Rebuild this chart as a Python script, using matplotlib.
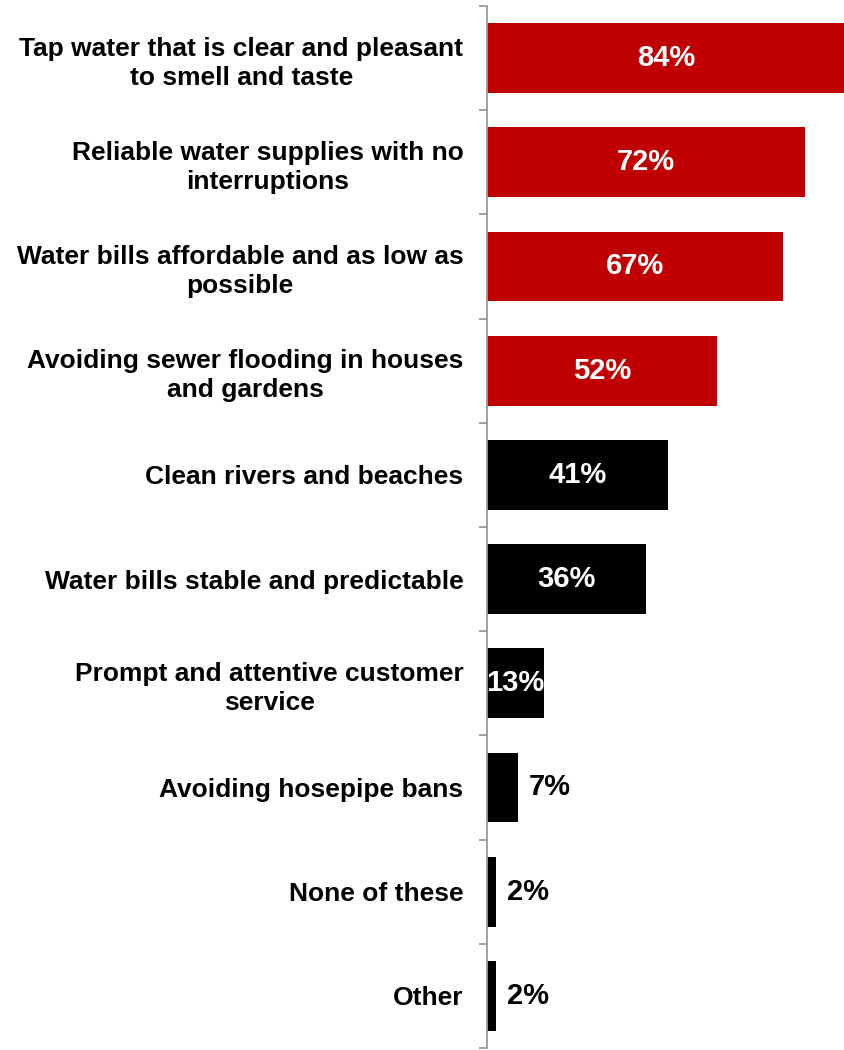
import matplotlib
matplotlib.use("Agg")
import matplotlib.pyplot as plt
from matplotlib.ticker import FixedLocator
from matplotlib import transforms

plt.rcParams["font.family"] = ["Liberation Sans", "DejaVu Sans"]

categories = [
    "Tap water that is clear and pleasant\nto smell and taste",
    "Reliable water supplies with no\ninterruptions",
    "Water bills affordable and as low as\npossible",
    "Avoiding sewer flooding in houses\nand gardens",
    "Clean rivers and beaches",
    "Water bills stable and predictable",
    "Prompt and attentive customer\nservice",
    "Avoiding hosepipe bans",
    "None of these",
    "Other",
]
values = [84, 72, 67, 52, 41, 36, 13, 7, 2, 2]
highlight = [True, True, True, True, False, False, False, False, False, False]

RED = "#C00000"
BLACK = "#000000"
AXIS_GREY = "#9A9A9A"
XMAX = 81

fig = plt.figure(figsize=(8.45, 10.5), dpi=100)
ax = fig.add_axes([487 / 845, 2 / 1050, 1 - 487 / 845, 1 - 8 / 1050])

pos = list(range(len(categories)))
colors = [RED if h else BLACK for h in highlight]
ax.barh(pos, values, height=0.67, color=colors, edgecolor="none", zorder=2)

ax.set_xlim(0, XMAX)
ax.set_ylim(len(categories) - 0.5, -0.5)

# category labels at bar centres, tick marks at category boundaries
ax.set_yticks(pos)
ax.set_yticklabels(categories, fontsize=19, fontweight="bold",
                   multialignment="center", linespacing=1.27)
ax.tick_params(axis="y", which="major", length=0, pad=17)
ax.yaxis.set_minor_locator(FixedLocator([p - 0.5 for p in pos] + [len(pos) - 0.5]))
ax.tick_params(axis="y", which="minor", length=5.5, width=1.3, color=AXIS_GREY, direction="out")

ax.set_xticks([])
for side in ("top", "right", "bottom"):
    ax.spines[side].set_visible(False)
ax.spines["left"].set_color(AXIS_GREY)
ax.spines["left"].set_linewidth(1.3)

offset = transforms.offset_copy(ax.transData, fig=fig, x=11 / 100 * 72, y=0, units="points")
for p, v in zip(pos, values):
    label = f"{v}%"
    if v >= 10:
        ax.text(min(v, XMAX) / 2, p, label, ha="center", va="center",
                color="white", fontsize=21, fontweight="bold", zorder=3)
    else:
        ax.text(v, p, label, ha="left", va="center", transform=offset,
                color="black", fontsize=21, fontweight="bold", zorder=3)

fig.savefig("out.png", dpi=100)
